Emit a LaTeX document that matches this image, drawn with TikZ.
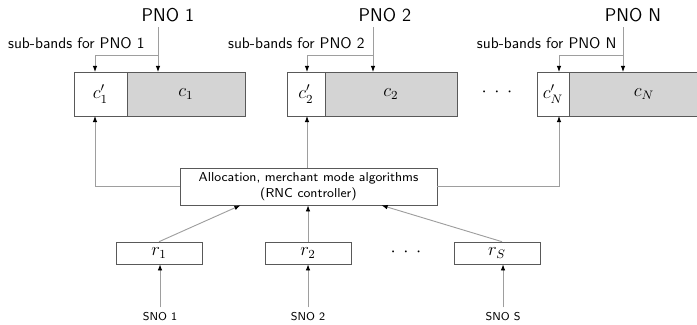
\documentclass[tikz,border=0pt]{standalone}
\usepackage{amsmath}
\usepackage{xcolor}
\usepackage{tikz}
\usetikzlibrary{positioning,calc,arrows.meta}
\renewcommand{\familydefault}{\sfdefault}
\tikzset{
  band/.style={draw=black!65, inner sep=0pt, outer sep=0pt, minimum height={44*0.65pt}, font=\large},
  share/.style={band, fill=black!17},
  ctrlbox/.style={draw=black!65, align=center, inner sep=0pt, minimum width={257*0.65pt}, minimum height={37*0.65pt}, font=\fontsize{8.4}{10.5}\selectfont},
  ratebox/.style={draw=black!65, inner sep=0pt, minimum width={86*0.65pt}, minimum height={22*0.65pt}, font=\large},
  feed/.style={draw=black!38, line width=0.6pt, -{Latex[length=4pt,width=3pt,color=black]}},
  pno/.style={font=\fontsize{12}{14}\selectfont},
  sub/.style={anchor=east},
  sno/.style={font=\fontsize{7.4}{9}\selectfont},
}

\begin{document}
\begin{tikzpicture}[x=0.65pt,y=-0.65pt]
  \useasboundingbox (0,0) rectangle (697,324);

  % primary operators and their sub-bands
  \node[band, anchor=west, minimum width={53*0.65pt}] (cp1) at (74,94) {$c'_1$};
  \node[share, right=0pt of cp1, minimum width={118*0.65pt}] (c1) {$c_1$};
  \node[band, anchor=west, minimum width={38*0.65pt}] (cp2) at (287,94) {$c'_2$};
  \node[share, right=0pt of cp2, minimum width={132*0.65pt}] (c2) {$c_2$};
  \node[band, anchor=west, minimum width={32*0.65pt}] (cpN) at (537,94) {$c'_N$};
  \node[share, right=0pt of cpN, minimum width={150*0.65pt}] (cN) {$c_N$};
  \node[font=\large] (dotsC) at (497,92) {$\cdot$\hspace{5pt}$\cdot$\hspace{5pt}$\cdot$};

  \node[pno] (pno1) at (168,15) {PNO 1};
  \node[pno] (pno2) at (385,15) {PNO 2};
  \node[pno] (pnoN) at (633,15) {PNO N};
  \node[sub] (sb1) at (150,43) {sub-bands for PNO 1};
  \node[sub] (sb2) at (370,43) {sub-bands for PNO 2};
  \node[sub] (sbN) at (622,43) {sub-bands for PNO N};

  \coordinate (m1) at (158,55);
  \coordinate (b1) at (95,55);
  \coordinate (m2) at (373,55);
  \coordinate (b2) at (307,55);
  \coordinate (mN) at (623,55);
  \coordinate (bN) at (559,55);

  \draw[feed] (m1 |- pno1.south) -- (m1 |- c1.north);
  \draw[feed] (m1) -| (b1 |- cp1.north);
  \draw[feed] (m2 |- pno2.south) -- (m2 |- c2.north);
  \draw[feed] (m2) -| (b2 |- cp2.north);
  \draw[feed] (mN |- pnoN.south) -- (mN |- cN.north);
  \draw[feed] (mN) -| (bN |- cpN.north);

  % controller
  \node[ctrlbox] (ctrl) at (308.5,186.5) {Allocation, merchant mode algorithms\\(RNC controller)};
  \draw[feed] (ctrl.west) -| (b1 |- cp1.south);
  \draw[feed] (b2 |- ctrl.north) -- (b2 |- cp2.south);
  \draw[feed] (ctrl.east) -| (bN |- cpN.south);

  % secondary operators
  \node[ratebox] (r1) at (159,253) {$r_1$};
  \node[ratebox] (r2) at (308,253) {$r_2$};
  \node[ratebox] (rS) at (497,253) {$r_S$};
  \node[font=\large] (dotsR) at (406,252) {$\cdot$\hspace{5pt}$\cdot$\hspace{5pt}$\cdot$};

  \draw[feed] (r1.north) -- ($(ctrl.south)+(-68,0)$);
  \draw[feed] (r2.north) -- (r2.north |- ctrl.south);
  \draw[feed] ($(rS.north)+(5,0)$) -- ($(ctrl.south)+(73,0)$);

  \node[sno] (s1) at (160,317) {SNO 1};
  \node[sno] (s2) at (308,317) {SNO 2};
  \node[sno] (sS) at (503,317) {SNO S};
  \draw[feed] (s1.north) -- (s1.north |- r1.south);
  \draw[feed] (s2.north) -- (s2.north |- r2.south);
  \draw[feed] (sS.north) -- (sS.north |- rS.south);
\end{tikzpicture}
\end{document}
